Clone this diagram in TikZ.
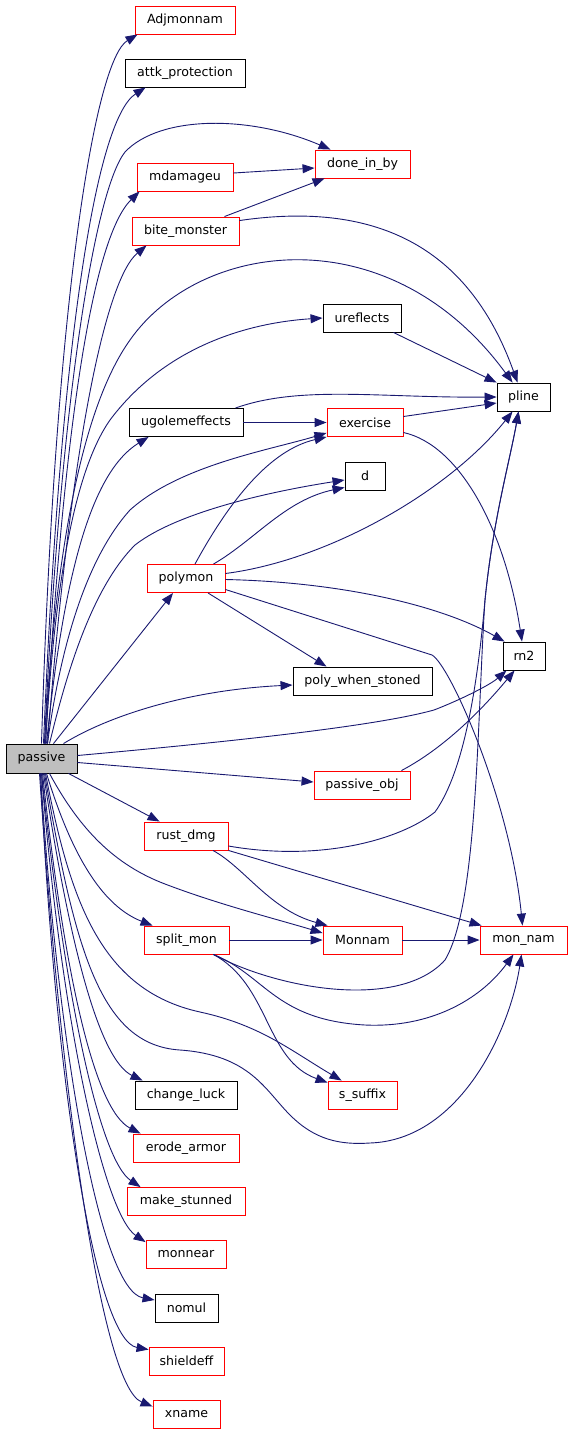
\documentclass[tikz,border=0pt]{standalone}
\usepackage{fontspec}
\setmainfont{DejaVu Sans}
\usetikzlibrary{arrows.meta}
\definecolor{edgeblue}{RGB}{25,25,112}
\definecolor{nodegrey}{RGB}{191,191,191}
\begin{document}
\begin{tikzpicture}[x=1pt,y=-1pt,
  fn/.style={draw=red, line width=0.9pt, minimum height=28pt, inner sep=0pt, fill=white,
    font=\fontsize{12.6}{15}\selectfont},
  blk/.style={fn, draw=black},
  root/.style={fn, draw=black, fill=nodegrey, minimum height=29pt},
  call/.style={draw=edgeblue, line width=0.9pt, -{Triangle[length=12pt,width=9pt]}}]
\useasboundingbox (0,0) rectangle (573,1435);
% nodes
\node[fn,  minimum width=100pt] (Adjmonnam) at (185,20) {Adjmonnam};
\node[blk, minimum width=120pt] (attk) at (185,73) {attk\_protection};
\node[fn,  minimum width=95pt]  (doneinby) at (362.5,164) {done\_in\_by};
\node[fn,  minimum width=96pt]  (mdamageu) at (185,177) {mdamageu};
\node[fn,  minimum width=107pt] (bite) at (185.5,231) {bite\_monster};
\node[blk, minimum width=78pt]  (ureflects) at (362,318) {ureflects};
\node[blk, minimum width=53pt]  (pline) at (523.5,397) {pline};
\node[blk, minimum width=114pt] (ugolem) at (186,422.5) {ugolemeffects};
\node[fn,  minimum width=76pt]  (exercise) at (365,422.5) {exercise};
\node[blk, minimum width=40pt]  (d) at (365,476) {d};
\node[fn,  minimum width=78pt]  (polymon) at (186,578.5) {polymon};
\node[blk, minimum width=42pt]  (rn2) at (524,656) {rn2};
\node[blk, minimum width=139pt] (pws) at (362.5,681) {poly\_when\_stoned};
\node[root,minimum width=71pt]  (passive) at (41.5,758.5) {passive};
\node[fn,  minimum width=96pt]  (pobj) at (362,785) {passive\_obj};
\node[fn,  minimum width=84pt]  (rust) at (186,836) {rust\_dmg};
\node[fn,  minimum width=85pt]  (split) at (186.5,940) {split\_mon};
\node[fn,  minimum width=79pt]  (Monnam) at (362.5,940) {Monnam};
\node[fn,  minimum width=87pt]  (monnam) at (523.5,940) {mon\_nam};
\node[blk, minimum width=102pt] (luck) at (186,1095) {change\_luck};
\node[fn,  minimum width=69pt]  (ssuffix) at (362.5,1095) {s\_suffix};
\node[fn,  minimum width=106pt] (erode) at (186,1148) {erode\_armor};
\node[fn,  minimum width=118pt] (stunned) at (186,1201.5) {make\_stunned};
\node[fn,  minimum width=80pt]  (monnear) at (186,1254.5) {monnear};
\node[blk, minimum width=63pt]  (nomul) at (186.5,1308) {nomul};
\node[fn,  minimum width=75pt]  (shieldeff) at (186.5,1361) {shieldeff};
\node[fn,  minimum width=67pt]  (xname) at (186.5,1414.5) {xname};
% edges from passive (upwards)
\draw[call] (passive.north) .. controls (55,300) and (95,60) .. ([xshift=3pt]Adjmonnam.south west);
\draw[call] ([xshift=2pt]passive.north) .. controls (60,350) and (95,120) .. ([xshift=21pt]attk.south west);
\draw[call] ([xshift=3pt]passive.north) .. controls (60,400) and (95,190) .. (125,152) .. controls (160,115) and (250,115) .. ([xshift=16pt]doneinby.north west);
\draw[call] ([xshift=4pt]passive.north) .. controls (62,450) and (90,240) .. ([xshift=3pt]mdamageu.south west);
\draw[call] ([xshift=6pt]passive.north) .. controls (70,450) and (105,280) .. ([xshift=15pt]bite.south west);
\draw[call] ([xshift=3pt]passive.north) .. controls (55,560) and (80,410) .. (130,340) .. controls (200,240) and (390,215) .. ([xshift=16pt]pline.north west);
\draw[call] ([xshift=4pt]passive.north) .. controls (55,580) and (75,470) .. (110,420) .. controls (170,340) and (260,322) .. (ureflects.west);
\draw[call] ([xshift=5pt]passive.north) .. controls (65,560) and (95,470) .. ([xshift=20pt]ugolem.south west);
\draw[call] ([xshift=6pt]passive.north) .. controls (60,650) and (85,560) .. (130,510) .. controls (180,465) and (270,450) .. ([yshift=4pt]exercise.south west);
\draw[call] ([xshift=8pt]passive.north) .. controls (65,680) and (90,590) .. (135,545) .. controls (180,510) and (280,490) .. ([yshift=-4pt]d.west);
\draw[call] ([xshift=12pt]passive.north) -- ([xshift=-13pt]polymon.south);
\draw[call] ([xshift=22pt]passive.north) .. controls (110,715) and (190,690) .. ([yshift=-4pt]pws.west);
\draw[call] ([yshift=3pt]passive.east) .. controls (250,740) and (380,725) .. (434,710) .. controls (460,700) and (490,685) .. ([xshift=4pt]rn2.south west);
\draw[call] ([yshift=-4pt]passive.east) -- ([yshift=3pt]pobj.west);
% edges from passive (downwards)
\draw[call] ([xshift=27pt]passive.south) -- ([xshift=16pt]rust.north west);
\draw[call] ([xshift=8pt]passive.south) .. controls (80,830) and (115,865) .. (165,884) .. controls (220,905) and (280,920) .. ([yshift=7pt]Monnam.west);
\draw[call] ([xshift=5pt]passive.south) .. controls (70,850) and (100,905) .. ([xshift=9pt]split.north west);
\draw[call] ([xshift=4pt]passive.south) .. controls (70,900) and (100,990) .. (200,1012) .. controls (260,1025) and (290,1050) .. ([xshift=14pt]ssuffix.north west);
\draw[call] ([xshift=3pt]passive.south) .. controls (75,950) and (100,1045) .. (180,1050) .. controls (250,1055) and (265,1090) .. (290,1115) .. controls (315,1140) and (340,1145) .. (370,1143) .. controls (460,1140) and (510,1030) .. ([xshift=-2pt]monnam.south);
\draw[call] ([xshift=2pt]passive.south) .. controls (70,950) and (100,1060) .. ([xshift=8pt]luck.north west);
\draw[call] ([xshift=1pt]passive.south) .. controls (65,980) and (95,1110) .. ([xshift=8pt]erode.north west);
\draw[call] (passive.south) .. controls (65,1000) and (100,1160) .. ([xshift=14pt]stunned.north west);
\draw[call] (passive.south) .. controls (62,1030) and (105,1215) .. ([yshift=-2pt]monnear.north west);
\draw[call] ([xshift=-1pt]passive.south) .. controls (58,1050) and (100,1290) .. ([yshift=8pt]nomul.west);
\draw[call] ([xshift=-1pt]passive.south) .. controls (55,1080) and (95,1340) .. ([yshift=-3pt]shieldeff.north west);
\draw[call] ([xshift=-2pt]passive.south) .. controls (60,1080) and (100,1385) .. ([yshift=8pt]xname.west);
% other edges
\draw[call] ([yshift=4pt]mdamageu.east) -- ([yshift=-4pt]doneinby.west);
\draw[call] ([xshift=-15pt]bite.north east) -- ([xshift=10pt]doneinby.south west);
\draw[call] ([yshift=-4pt]bite.north east) .. controls (380,200) and (470,250) .. ([xshift=21pt]pline.north west);
\draw[call] ([xshift=-8pt]ureflects.south east) -- (pline.north west);
\draw[call] ([xshift=-8pt]ugolem.north east) .. controls (300,385) and (380,398) .. (pline.west);
\draw[call] (ugolem.east) -- (exercise.west);
\draw[call] ([yshift=6pt]exercise.east) -- ([yshift=-6pt]pline.west);
\draw[call] ([yshift=-10pt]exercise.east) .. controls (460,445) and (505,530) .. ([xshift=-2pt]rn2.north);
\draw[call] ([xshift=9pt]polymon.north) .. controls (230,500) and (270,450) .. (exercise.south west);
\draw[call] ([xshift=-12pt]polymon.north east) .. controls (255,540) and (285,500) .. ([yshift=3pt]d.south west);
\draw[call] ([yshift=5pt]polymon.east) .. controls (330,560) and (450,490) .. ([xshift=16pt]pline.south west);
\draw[call] ([yshift=-1pt]polymon.east) .. controls (340,582) and (440,605) .. ([xshift=2pt]rn2.north west);
\draw[call] ([yshift=-11pt]polymon.east) -- (432,655) .. controls (450,665) and (510,800) .. ([xshift=-1pt]monnam.north);
\draw[call] ([xshift=22pt]polymon.south) -- ([xshift=-36pt]pws.north);
\draw[call] ([xshift=-9pt]pobj.north east) .. controls (450,745) and (490,700) .. ([xshift=12pt]rn2.south west);
\draw[call] ([yshift=-10pt]rust.east) .. controls (320,862) and (400,840) .. (435,812) .. controls (465,770) and (478,680) .. (485,600) .. controls (493,520) and (510,460) .. ([xshift=22pt]pline.south west);
\draw[call] ([xshift=27pt]rust.south) .. controls (245,868) and (270,910) .. ([xshift=5pt]Monnam.north west);
\draw[call] (rust.south east) -- ([xshift=2pt]monnam.north west);
\draw[call] (split.east) -- (Monnam.west);
\draw[call] (Monnam.east) -- (monnam.west);
\draw[call] ([xshift=-16pt]split.south east) .. controls (280,990) and (400,1010) .. (445,960) .. controls (478,905) and (477,720) .. (485,600) .. controls (493,520) and (510,460) .. ([xshift=22pt]pline.south west);
\draw[call] ([xshift=-16pt]split.south east) .. controls (265,975) and (275,1020) .. (365,1025) .. controls (430,1028) and (480,1000) .. ([xshift=-10pt]monnam.south);
\draw[call] ([xshift=-16pt]split.south east) .. controls (270,985) and (265,1060) .. ([yshift=-2pt]ssuffix.north west);
\end{tikzpicture}
\end{document}
